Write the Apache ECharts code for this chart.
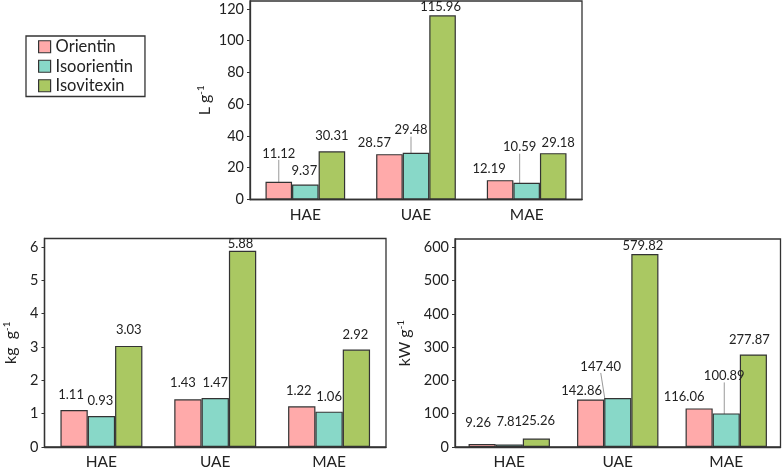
<!DOCTYPE html>
<html><head><meta charset="utf-8">
<script src="https://cdn.jsdelivr.net/npm/echarts@6/dist/echarts.min.js"></script>
<style>html,body{margin:0;padding:0;background:#fff}#c{width:784px;height:470px}</style>
</head><body><div id="c"></div>
<script>
var categories = ['HAE', 'UAE', 'MAE'];
var seriesNames = ['Orientin', 'Isoorientin', 'Isovitexin'];
// panel 1: L g-1
var litreOrientin = [11.12, 28.57, 12.19];
var litreIsoorientin = [9.37, 29.48, 10.59];
var litreIsovitexin = [30.31, 115.96, 29.18];
// panel 2: kg g-1
var kgOrientin = [1.11, 1.43, 1.22];
var kgIsoorientin = [0.93, 1.47, 1.06];
var kgIsovitexin = [3.03, 5.88, 2.92];
// panel 3: kW g-1
var kwOrientin = [9.26, 142.86, 116.06];
var kwIsoorientin = [7.81, 147.40, 100.89];
var kwIsovitexin = [25.26, 579.82, 277.87];
var ticks1 = [0, 20, 40, 60, 80, 100, 120];
var ticks2 = [0, 1, 2, 3, 4, 5, 6];
var ticks3 = [0, 100, 200, 300, 400, 500, 600];
var axisNames = ['L g', 'kg  g', 'kW g'];

var colors = ['#FFAAAA', '#88D8C8', '#AAC862'];
var FONT = 'Lato';
var ink = '#222';

// label offsets [panel][category][series] = [dx, dy]
var offsets = [
  [[[0,-16],[-1,-1],[0,-3]], [[-15,1],[-5,-10],[-2,4]], [[-11,1],[-7,-23],[5,2]]],
  [[[-3,-1],[-1,-1],[0,-2]], [[-5,-2],[0,-1],[-2,7]], [[-3,-1],[0,0],[-1,0]]],
  [[[-4,-7],[0,-8],[2,-3]], [[-9,6],[-17,-17],[-2,6]], [[-15,3],[-2,-23],[-4,0]]]
];
// which labels get a leader line [panel][category][series]
var leaders = [
  [[1,0,0],[0,1,0],[0,1,0]],
  [[0,0,0],[0,0,0],[0,0,0]],
  [[0,0,0],[0,1,0],[0,1,0]]
];

var panels = [
  {vals: [litreOrientin, litreIsoorientin, litreIsovitexin], ticks: ticks1, max: 125, grid: {left: 250, right: 202, top: 1, bottom: 270.5}, gap: 36, dist: 6, cgap: '28%'},
  {vals: [kgOrientin, kgIsoorientin, kgIsovitexin], ticks: ticks2, max: 6.25, grid: {left: 44.5, right: 398, top: 238.5, bottom: 21.5}, gap: 25, dist: 8, cgap: '28%'},
  {vals: [kwOrientin, kwIsoorientin, kwIsovitexin], ticks: ticks3, max: 625, grid: {left: 455, right: 3.5, top: 239, bottom: 21.5}, gap: 41, dist: 8, cgap: '25%'}
];

var grids = [], xAxes = [], yAxes = [], series = [];
panels.forEach(function (p, pi) {
  grids.push(Object.assign({show: true, borderColor: '#333', borderWidth: 1.3, backgroundColor: 'transparent'}, p.grid));
  xAxes.push({
    type: 'category', gridIndex: pi, data: categories,
    axisTick: {show: false},
    axisLine: {lineStyle: {color: '#333', width: 1.3}},
    axisLabel: {color: ink, fontFamily: FONT, fontSize: 15.5, margin: 7}
  });
  yAxes.push({
    type: 'value', gridIndex: pi, min: 0, max: p.max,
    interval: p.ticks[1] - p.ticks[0],
    splitLine: {show: false},
    axisLine: {show: true, lineStyle: {color: '#333', width: 1.3}},
    axisTick: {show: true, length: 3, inside: false, lineStyle: {color: '#333'}, customValues: p.ticks},
    axisLabel: {color: ink, fontFamily: FONT, fontSize: 14.5, margin: 6, customValues: p.ticks},
    name: '{n|' + axisNames[pi] + '}{s|-1}',
    nameLocation: 'middle', nameGap: p.gap, nameRotate: 90,
    nameTextStyle: {
      rich: {
        n: {fontFamily: FONT, fontSize: 16, color: ink, lineHeight: 18},
        s: {fontFamily: FONT, fontSize: 10, color: ink, lineHeight: 10, verticalAlign: 'top'}
      }
    }
  });
  p.vals.forEach(function (vals, si) {
    series.push({
      type: 'bar', name: seriesNames[si], xAxisIndex: pi, yAxisIndex: pi,
      barGap: '0%', barCategoryGap: p.cgap,
      itemStyle: {color: colors[si], borderColor: '#333', borderWidth: 1.2},
      label: {
        show: true, position: 'top', distance: p.dist,
        fontFamily: FONT, fontSize: 13, color: ink,
        formatter: function (d) { return Number(d.value).toFixed(2); }
      },
      labelLine: {show: false, lineStyle: {color: '#999', width: 1}},
      labelLayout: (function (pi, si) {
        return function (params) {
          var o = offsets[pi][params.dataIndex][si];
          return {dx: o[0], dy: o[1]};
        };
      })(pi, si),
      data: vals.map(function (v, ci) {
        return leaders[pi][ci][si] ? {value: v, labelLine: {show: true, lineStyle: {color: '#999', width: 1}}} : v;
      }),
      emphasis: {disabled: true}
    });
  });
});

var chart = echarts.init(document.getElementById('c'), null, {renderer: 'canvas'});
chart.setOption({
  animation: false,
  backgroundColor: '#fff',
  grid: grids, xAxis: xAxes, yAxis: yAxes, series: series,
  legend: {
    data: seriesNames, orient: 'vertical', left: 26, top: 36,
    borderColor: '#333', borderWidth: 1.3, padding: [1, 12, 1, 12],
    itemWidth: 12, itemHeight: 12, itemGap: 0,
    icon: 'rect',
    itemStyle: {borderColor: '#333', borderWidth: 1.2},
    textStyle: {fontFamily: FONT, fontSize: 16.5, color: ink, lineHeight: 19.5}
  }
});
</script>
</body></html>
